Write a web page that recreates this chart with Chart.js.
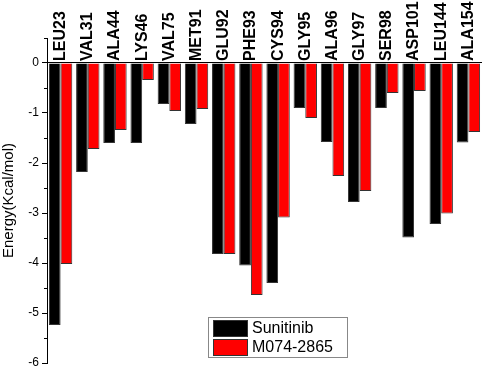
<!DOCTYPE html>
<html>
<head>
<meta charset="utf-8">
<script src="https://cdn.jsdelivr.net/npm/chart.js@4/dist/chart.umd.min.js"></script>
<style>
  html, body { margin: 0; padding: 0; background: #fff; }
  #wrap { width: 484px; height: 369px; }
</style>
</head>
<body>
<div id="wrap"><canvas id="myChart" width="484" height="369"></canvas></div>
<script>
// residues along the x axis
const residues = ["LEU23", "VAL31", "ALA44", "LYS46", "VAL75", "MET91", "GLU92", "PHE93",
  "CYS94", "GLY95", "ALA96", "GLY97", "SER98", "ASP101", "LEU144", "ALA154"];
// energies (Kcal/mol)
const sunitinib = [-5.24, -2.18, -1.6, -1.6, -0.82, -1.22, -3.82, -4.05,
  -4.4, -0.9, -1.58, -2.78, -0.9, -3.49, -3.22, -1.59];
const m074 = [-4.02, -1.72, -1.34, -0.34, -0.96, -0.92, -3.82, -4.64,
  -3.09, -1.1, -2.26, -2.56, -0.6, -0.56, -3.01, -1.38];
const yTicks = [-6, -5, -4, -3, -2, -1, 0];

const FONT = "Liberation Sans, Arial, sans-serif";

// residue names written upright above the zero line
const residueLabels = {
  id: "residueLabels",
  afterDatasetsDraw(chart) {
    const ctx = chart.ctx;
    const xs = chart.scales.x;
    const ys = chart.scales.y;
    ctx.save();
    ctx.fillStyle = "#000";
    ctx.font = "bold 16px " + FONT;
    ctx.textAlign = "left";
    ctx.textBaseline = "middle";
    chart.data.labels.forEach((lab, i) => {
      ctx.save();
      ctx.translate(xs.getPixelForValue(i), ys.getPixelForValue(0) - 2);
      ctx.rotate(-Math.PI / 2);
      ctx.fillText(lab, 0, 0);
      ctx.restore();
    });
    // short minor ticks half way between the majors
    const left = chart.chartArea.left;
    ctx.strokeStyle = "#000";
    ctx.lineWidth = 1;
    yTicks.forEach((v) => {
      const y = Math.round(ys.getPixelForValue(v + 0.5)) + 0.5;
      ctx.beginPath();
      ctx.moveTo(left - 3, y);
      ctx.lineTo(left, y);
      ctx.stroke();
    });
    ctx.restore();
  },
};

// boxed legend near the bottom
const boxLegend = {
  id: "boxLegend",
  afterDraw(chart) {
    const ctx = chart.ctx;
    const x0 = 208, y0 = 317, w = 139, h = 40;
    ctx.save();
    ctx.fillStyle = "#fff";
    ctx.fillRect(x0, y0, w, h);
    ctx.strokeStyle = "#888";
    ctx.lineWidth = 1;
    ctx.strokeRect(x0 + 0.5, y0 + 0.5, w, h);
    ctx.font = "16px " + FONT;
    ctx.textBaseline = "middle";
    chart.data.datasets.forEach((ds, i) => {
      const sy = y0 + 3 + i * 19;
      ctx.fillStyle = ds.backgroundColor;
      ctx.fillRect(x0 + 5, sy, 35, 17);
      ctx.strokeStyle = "#333";
      ctx.strokeRect(x0 + 5.5, sy + 0.5, 34, 16);
      ctx.fillStyle = "#000";
      ctx.fillText(ds.label, x0 + 44, sy + 9);
    });
    ctx.restore();
  },
};

const myChart = new Chart(document.getElementById("myChart"), {
  type: "bar",
  data: {
    labels: residues,
    datasets: [
      {
        label: "Sunitinib",
        data: sunitinib,
        backgroundColor: "#000000",
        borderColor: "#333",
        borderWidth: 1,
      },
      {
        label: "M074-2865",
        data: m074,
        backgroundColor: "#ff0000",
        borderColor: "#333",
        borderWidth: 1,
      },
    ],
  },
  options: {
    responsive: false,
    animation: false,
    layout: { padding: { top: 38, bottom: 6, right: 2, left: 0 } },
    plugins: {
      legend: { display: false },
      tooltip: { enabled: false },
    },
    datasets: {
      bar: { categoryPercentage: 0.86, barPercentage: 1.0 },
    },
    scales: {
      x: {
        display: false,
      },
      y: {
        min: -6,
        max: 0.5,
        afterFit(scale) {
          scale.width = 47;
        },
        afterBuildTicks(scale) {
          scale.ticks = yTicks.map((v) => ({ value: v }));
        },
        ticks: {
          color: "#000",
          // small line height so the end labels do not eat into the plot
          font: { family: FONT, size: 12, lineHeight: 0.5 },
          padding: 3,
        },
        grid: {
          drawOnChartArea: true,
          tickLength: 5,
          tickColor: "#000",
          // only the zero line runs across the plot
          color: (c) => (c.tick && c.tick.value === 0 ? "#000" : "rgba(0,0,0,0)"),
        },
        border: { color: "#000", width: 1 },
        title: {
          display: true,
          text: "Energy(Kcal/mol)",
          color: "#000",
          font: { family: FONT, size: 15 },
          padding: 0,
        },
      },
    },
  },
  plugins: [residueLabels, boxLegend],
});
</script>
</body>
</html>
